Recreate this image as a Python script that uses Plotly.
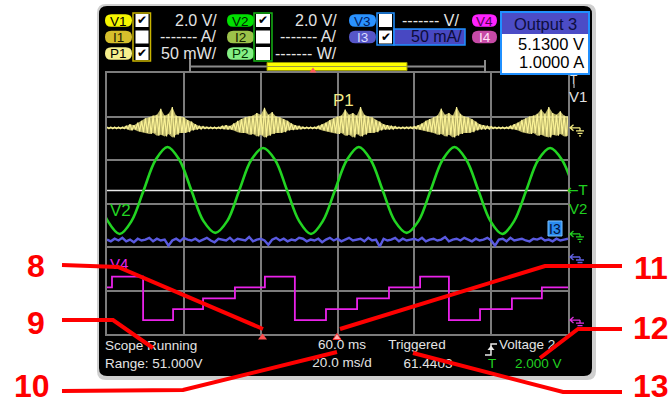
import plotly.graph_objects as go

W, H = 672, 403
FONT = "Liberation Sans, Arial, sans-serif"

# ---------------- data ----------------
SPAN_MS = 120.0            # 20 ms/div x 6 div
# per-division scales and ground offsets (divisions from screen centre)
V2_SCALE, V2_GND = 2.0, -0.70      # V/div
P1_SCALE, P1_GND = 50.0, 1.74      # mW/div
I3_SCALE, I3_GND = 50.0, -1.23     # mA/div
V4_SCALE, V4_GND = 2.0, -2.68      # V/div
TRIG_LEVEL_V = 2.0

# V2 voltage, sampled every 1/8 of its 24.9 ms period
V2_T0, V2_DT = -2.925, 3.1125
V2_VOLTS = [2.0, 0.6, 0.0, 0.6, 2.0, 3.4, 4.0, 3.4,
            2.0, 0.6, 0.05, 0.6, 2.0, 3.4, 3.95, 3.4,
            2.0, 0.6, 0.0, 0.6, 2.0, 3.4, 4.0, 3.4,
            2.0, 0.6, 0.05, 0.6, 2.0, 3.4, 4.0, 3.4,
            2.0, 0.6, 0.0, 0.6, 2.0, 3.4, 3.95, 3.4,
            2.0]

# P1 power envelope (mW), one value per ms from 0 to 120 ms
P1_HI_MW = [1, 1, 1, 1, 1,
            2, 4, 3, 6, 8, 11, 12, 14, 15, 22, 14, 16, 24, 14, 13, 12, 9, 7, 4, 2, 1.5, 1, 1,
            1, 1, 2, 3, 2, 5, 8, 10, 12, 13, 14, 17, 15, 23, 15, 18, 13, 12, 10, 8, 5, 3, 2, 1, 1,
            1, 1, 2, 4, 6, 9, 11, 13, 14, 21, 15, 17, 14, 24, 15, 13, 12, 9, 7, 4, 3, 2, 1.5, 1,
            1, 1, 1, 1.5,
            3, 5, 8, 10, 12, 14, 22, 15, 17, 14, 24, 16, 13, 12, 10, 7, 4, 3, 2, 1.5, 1,
            1, 1, 1,
            2, 4, 6, 9, 11, 13, 14, 16, 21, 16, 24, 17, 15, 19, 14, 13]
P1_LO_MW = [-1, -1, -1, -1, -1,
            -1.5, -3, -2, -4, -5, -6, -7, -6, -9, -8, -10, -7, -11, -8, -6, -6, -5, -3, -2, -1.5, -1, -1, -1,
            -1, -1, -1.5, -2, -2, -3, -5, -6, -6, -8, -7, -10, -8, -11, -9, -7, -6, -6, -5, -3, -2.5, -2, -1.5, -1, -1,
            -1, -1, -1.5, -3, -4, -5, -6, -7, -6, -9, -8, -11, -7, -10, -8, -6, -6, -5, -3, -2, -2, -1.5, -1, -1,
            -1, -1, -1, -1,
            -2, -3, -4, -5, -6, -8, -7, -10, -8, -11, -9, -7, -6, -6, -5, -3, -2, -2, -1.5, -1, -1,
            -1, -1, -1,
            -1.5, -2, -3, -5, -6, -7, -6, -9, -8, -10, -11, -8, -9, -7, -10, -9]

# I3 current (mA), one value per ms
I3_MA = [20, 18, 21, 19, 22, 18, 20, 17, 21, 19, 20, 22, 18, 21, 19, 20, 13, 19, 21, 18,
         22, 20, 19, 21, 18, 20, 22, 19, 17, 21, 20, 19, 22, 18, 21, 20, 19, 23, 18, 20,
         21, 19, 14, 20, 22, 19, 21, 18, 20, 19, 22, 21, 18, 20, 19, 21, 17, 20, 22, 19,
         21, 18, 20, 22, 19, 20, 21, 18, 22, 19, 20, 12, 21, 19, 20, 22, 18, 21, 19, 20,
         21, 19, 22, 18, 20, 21, 19, 20, 23, 18, 20, 21, 19, 22, 20, 18, 21, 19, 20, 22,
         19, 13, 20, 21, 18, 22, 19, 20, 21, 19, 18, 21, 20, 22, 19, 20, 18, 21, 19, 20, 21]

# V4 staircase: step times (ms) and levels (V)
V4_T_MS = [0, 1.3, 9.4, 17.2, 25.0, 33.3, 41.1, 48.9, 57.0, 65.1, 73.4, 81.5, 89.0,
           97.1, 105.4, 113.2, 120]
V4_VOLTS = [1.5, 2.0, 0.0, 0.5, 1.0, 1.5, 2.0, 0.0, 0.5, 1.0, 1.5, 2.0, 0.0,
            0.5, 1.0, 1.5, 1.5]

# ---------------- geometry helpers ----------------
GX0, GX1, GY0, GY1 = 107, 568, 73, 334
GYC = (GY0 + GY1) / 2
DIVPX = (GY1 - GY0) / 6


def ypx(d):
    return GYC - d * DIVPX


def P(x, y):
    return f"{x / W:.5f},{1 - y / H:.5f}"


def mkpath(cmds):
    out = []
    for c in cmds:
        if c[0] == 'Z':
            out.append('Z')
        else:
            pts = c[1:]
            out.append(c[0] + ' ' + ' '.join(P(pts[i], pts[i + 1]) for i in range(0, len(pts), 2)))
    return ' '.join(out)


def rrect_path(x0, y0, x1, y1, r):
    return mkpath([('M', x0 + r, y0), ('L', x1 - r, y0), ('Q', x1, y0, x1, y0 + r),
                   ('L', x1, y1 - r), ('Q', x1, y1, x1 - r, y1), ('L', x0 + r, y1),
                   ('Q', x0, y1, x0, y1 - r), ('L', x0, y0 + r), ('Q', x0, y0, x0 + r, y0), ('Z',)])


shapes = []
ann = []


def shp_path(p, fill=None, lc=None, lw=0, layer='above'):
    d = dict(type='path', xref='paper', yref='paper', path=p, layer=layer,
             line=dict(color=lc if lc else 'rgba(0,0,0,0)', width=lw))
    if fill:
        d['fillcolor'] = fill
    shapes.append(d)


def shp_rect(x0, y0, x1, y1, fill=None, lc=None, lw=0, layer='above'):
    shapes.append(dict(type='rect', xref='paper', yref='paper', x0=x0 / W, x1=x1 / W,
                       y0=1 - y1 / H, y1=1 - y0 / H, layer=layer,
                       fillcolor=fill if fill else 'rgba(0,0,0,0)',
                       line=dict(color=lc if lc else 'rgba(0,0,0,0)', width=lw)))


def shp_line(x0, y0, x1, y1, color, w):
    shapes.append(dict(type='line', xref='paper', yref='paper', x0=x0 / W, x1=x1 / W,
                       y0=1 - y0 / H, y1=1 - y1 / H, layer='above',
                       line=dict(color=color, width=w)))


def txt(x, y, s, size, color, anchor='left', bold=False, family=FONT):
    ann.append(dict(xref='paper', yref='paper', x=x / W, y=1 - y / H, text=f"<b>{s}</b>" if bold else s,
                    showarrow=False, xanchor=anchor, yanchor='middle', borderpad=0,
                    font=dict(family=family, size=size, color=color)))


# ---------------- screen ----------------
shp_path(rrect_path(97, 4, 596, 380, 9), fill='#cfcfcf', layer='below')
shp_path(rrect_path(99, 6, 592, 376, 8), fill='#000000', layer='below')

TXT = '#e4e4e4'
# header badges
R1, R2, R3 = 20.5, 37, 53.5
badges = [
    (105, 132, R1, 'V1', '#f6f600', '#000000'), (105, 132, R2, 'I1', '#d6bf2c', '#1a1a00'),
    (105, 132, R3, 'P1', '#f6ef8c', '#000000'),
    (227, 254, R1, 'V2', '#00e000', '#002000'), (227, 254, R2, 'I2', '#9cc24a', '#102000'),
    (227, 254, R3, 'P2', '#84f084', '#003000'),
    (349, 376, R1, 'V3', '#2a92ff', '#001a60'), (349, 376, R2, 'I3', '#5656c8', '#dcdcff'),
    (472, 497, R1, 'V4', '#ff22ff', '#500050'), (472, 497, R2, 'I4', '#c64aa6', '#ffe0f6'),
]
for x0, x1, yc, lab, fc, tc in badges:
    shp_path(rrect_path(x0, yc - 6.3, x1, yc + 6.3, 6.3), fill=fc)
    txt((x0 + x1) / 2, yc + 0.5, lab, 13.5, tc, anchor='center')

# checkbox groups
shp_rect(133, 13, 150.5, 61, fill='#000000', lc='#c9b400', lw=1.5)
shp_rect(254, 13, 272, 61, fill='#000000', lc='#14b414', lw=1.5)
shp_rect(377, 13, 394, 45, fill='#000000', lc='#2090ff', lw=1.5)
# I3 highlight box
shp_rect(394, 29, 465, 45, fill='#4848c2', lc='#2090ff', lw=1.5)
boxes = [(135.5, 148.5, R1, True), (135.5, 148.5, R2, False), (135.5, 148.5, R3, True),
         (256, 270, R1, True), (256, 270, R2, False), (256, 270, R3, False),
         (379, 392, R1, False), (379, 392, R2, True)]
for x0, x1, yc, chk in boxes:
    shp_rect(x0, yc - 6.5, x1, yc + 6.5, fill='#ffffff')
    if chk:
        txt((x0 + x1) / 2, yc, '✔', 12, '#000000', anchor='center', family='DejaVu Sans')

# header scale texts
HS = 16
txt(218, R1, '2.0 V/', HS, TXT, anchor='right')
txt(218, R2, '------- A/', HS, TXT, anchor='right')
txt(218, R3, '50 mW/', HS, TXT, anchor='right')
txt(338, R1, '2.0 V/', HS, TXT, anchor='right')
txt(338, R2, '------- A/', HS, TXT, anchor='right')
txt(338, R3, '------- W/', HS, TXT, anchor='right')
txt(460, R1, '------- V/', HS, TXT, anchor='right')
txt(463, R2, '50 mA/', HS, '#0c0c3a', anchor='right')

# output box
shp_rect(501, 12, 589, 34, fill='#4c4cc6')
shp_rect(501, 34, 589, 74, fill='#ffffff')
shp_rect(501, 12, 589, 74, lc='#2090ff', lw=2)
txt(545, 23.5, 'Output 3', 16.5, '#0e0e40', anchor='center')
txt(585, 44, '5.1300 V', 16.5, '#000000', anchor='right')
txt(585, 62, '1.0000 A', 16.5, '#000000', anchor='right')

# timeline bar
shp_line(190, 66.5, 485, 66.5, '#8a8a8a', 2)
shp_line(190, 58, 190, 72, '#8a8a8a', 2)
shp_line(485, 60, 485, 73, '#8a8a8a', 2)
shp_rect(267, 62.5, 407, 70.5, fill='#ffff00', lc='#9a9a00', lw=1)
shp_line(267, 66.5, 407, 66.5, '#9a9a40', 1)
shp_path(mkpath([('M', 309.5, 72.5), ('L', 313, 67.5), ('L', 316.5, 72.5), ('Z',)]), fill='#ff5a5a')

# right-hand markers
def ground(x, y, color):
    shp_path(mkpath([('M', x, y), ('L', x + 10, y), ('M', x + 3.5, y - 3), ('L', x, y), ('L', x + 3.5, y + 3),
                     ('M', x + 10, y), ('L', x + 10, y + 3), ('M', x + 6, y + 3), ('L', x + 14, y + 3),
                     ('M', x + 7.5, y + 5.5), ('L', x + 12.5, y + 5.5), ('M', x + 9, y + 8), ('L', x + 11, y + 8)]),
             lc=color, lw=1.3)


ground(570, ypx(P1_GND), '#f2ea80')
ground(570, ypx(V2_GND), '#20d020')
ground(570, ypx(I3_GND), '#6060e0')
ground(570, ypx(V4_GND), '#e030e0')
txt(574, 80, 'T', 12, '#e0e0e0', anchor='center')
shp_line(574, 84, 574, 88, '#e0e0e0', 1)
txt(578, 97, 'V1', 15, '#e0e0e0', anchor='center')
trig_y = ypx(V2_GND + TRIG_LEVEL_V / V2_SCALE)
txt(577, trig_y, '←T', 14, '#20d020', anchor='center', family='DejaVu Sans')
txt(578, 208, 'V2', 15, '#20d020', anchor='center')
shp_rect(548, 221, 562, 236, fill='#2a8cf0', lc='#7ac0ff', lw=1)
txt(555, 228.5, 'I3', 14, '#001040', anchor='center')

# trigger position markers
shp_path(mkpath([('M', 258, 339.5), ('L', 262.5, 333.5), ('L', 267, 339.5), ('Z',)]), fill='#ff5050')
shp_path(mkpath([('M', 333, 339.5), ('L', 337, 333.5), ('L', 341, 339.5), ('Z',)]), fill='#ffb0b0', lc='#ff3030', lw=1)

# trigger edge icon
shp_path(mkpath([('M', 485, 355), ('L', 491, 355), ('L', 491, 344), ('L', 497, 344)]), lc='#e8e8e8', lw=1.5)
shp_path(mkpath([('M', 487.5, 350), ('L', 491, 345.5), ('L', 494.5, 350), ('Z',)]), fill='#e8e8e8')

# red callouts
RED = '#ff0000'
for pts in [[(62, 265), (118, 267), (263, 329)],
            [(62, 320), (113, 320), (153, 348)],
            [(62, 391), (183, 390), (337, 352)],
            [(622, 266), (545, 266), (340, 329)],
            [(622, 329), (578, 329), (540, 358)],
            [(622, 392), (563, 392), (413, 353)]]:
    shp_path(mkpath([('M',) + pts[0]] + [('L',) + p for p in pts[1:]]), lc=RED, lw=4)
for lab, x, y in [('8', 36, 265), ('9', 36, 322), ('10', 32, 385),
                  ('11', 651, 267), ('12', 651, 327), ('13', 651, 385)]:
    txt(x, y + 1, lab, 32, RED, anchor='center', bold=True)

# ---------------- traces ----------------
fig = go.Figure()


def to_div(vals, scale, gnd):
    return [gnd + v / scale for v in vals]


sc = dict(xaxis='x2', yaxis='y2', hoverinfo='skip', showlegend=False)

# trigger level line
fig.add_trace(go.Scatter(x=[0, SPAN_MS], y=to_div([TRIG_LEVEL_V, TRIG_LEVEL_V], V2_SCALE, V2_GND),
                         mode='lines', line=dict(color='#e8e8e8', width=1.6), **sc))

# P1
p1_dt = SPAN_MS / (len(P1_HI_MW) - 1)
p1_t = [i * p1_dt for i in range(len(P1_HI_MW))]
fig.add_trace(go.Scatter(x=p1_t, y=to_div(P1_LO_MW, P1_SCALE, P1_GND), mode='lines',
                         line=dict(width=0, color='rgba(0,0,0,0)'), **sc))
fig.add_trace(go.Scatter(x=p1_t, y=to_div(P1_HI_MW, P1_SCALE, P1_GND), mode='lines', fill='tonexty',
                         fillcolor='rgba(246,238,140,0.72)', line=dict(width=0, color='rgba(0,0,0,0)'), **sc))
zx, zy = [], []
for t, hi, lo in zip(p1_t, P1_HI_MW, P1_LO_MW):
    zx += [t, t + p1_dt / 2]
    zy += [hi, lo]
fig.add_trace(go.Scatter(x=zx, y=to_div(zy, P1_SCALE, P1_GND), mode='lines',
                         line=dict(color='#faf296', width=1.2), **sc))

# I3
i3_dt = SPAN_MS / (len(I3_MA) - 1)
fig.add_trace(go.Scatter(x=[i * i3_dt for i in range(len(I3_MA))], y=to_div(I3_MA, I3_SCALE, I3_GND),
                         mode='lines', line=dict(color='#5a5ae0', width=2.4), **sc))

# V2
fig.add_trace(go.Scatter(x=[V2_T0 + i * V2_DT for i in range(len(V2_VOLTS))],
                         y=to_div(V2_VOLTS, V2_SCALE, V2_GND), mode='lines',
                         line=dict(color='#22d422', width=2.6, shape='spline', smoothing=1.0), **sc))

# V4
fig.add_trace(go.Scatter(x=V4_T_MS, y=to_div(V4_VOLTS, V4_SCALE, V4_GND), mode='lines',
                         line=dict(color='#ea22ea', width=1.8, shape='hv'), **sc))

# channel labels inside the grid
txt(343, 100, 'P1', 17, '#f4ec88', anchor='center')
txt(120, 210, 'V2', 17, '#22d422', anchor='center')

# texts that sit under the red callout lines (drawn as text traces)
def ttrace(x, y, s, size, color, pos):
    fig.add_trace(go.Scatter(x=[x], y=[y], mode='text', text=[s], textposition=pos,
                             textfont=dict(family=FONT, size=size, color=color),
                             xaxis='x', yaxis='y', hoverinfo='skip', showlegend=False))


ttrace(105, 347, 'Scope Running', 13.5, TXT, 'middle right')
ttrace(105, 365, 'Range: 51.000V', 13.5, TXT, 'middle right')
ttrace(110, 265, 'V4', 15, '#ea22ea', 'middle right')
ttrace(342, 346, '60.0 ms', 13.5, TXT, 'middle center')
ttrace(342, 364, '20.0 ms/d', 13.5, TXT, 'middle center')
ttrace(417, 346, 'Triggered', 13.5, TXT, 'middle center')
ttrace(428, 365, '61.4403', 13.5, TXT, 'middle center')
ttrace(499, 346, 'Voltage 2', 13.5, TXT, 'middle right')
ttrace(492, 365, 'T', 13.5, '#20d020', 'middle center')
ttrace(515, 365, '2.000 V', 13.5, '#20d020', 'middle right')

GRID = '#7c7c7c'
fig.update_layout(
    width=W, height=H, margin=dict(l=0, r=0, t=0, b=0),
    paper_bgcolor='#ffffff', plot_bgcolor='rgba(0,0,0,0)',
    xaxis=dict(domain=[0, 1], range=[0, W], visible=False, fixedrange=True),
    yaxis=dict(domain=[0, 1], range=[H, 0], visible=False, fixedrange=True),
    xaxis2=dict(domain=[GX0 / W, GX1 / W], range=[0, SPAN_MS], anchor='y2', dtick=20, tick0=0,
                showgrid=True, gridcolor=GRID, gridwidth=1.6, showline=True, mirror=True,
                linecolor=GRID, linewidth=2, zeroline=False, showticklabels=False, ticks='', fixedrange=True),
    yaxis2=dict(domain=[1 - GY1 / H, 1 - GY0 / H], range=[-3, 3], anchor='x2', dtick=1, tick0=0,
                showgrid=True, gridcolor=GRID, gridwidth=1.6, showline=True, mirror=True,
                linecolor=GRID, linewidth=2, zeroline=False, showticklabels=False, ticks='', fixedrange=True),
    shapes=shapes, annotations=ann, showlegend=False,
)
fig.write_html("out.html", config={'displayModeBar': False},
               post_script="document.body.style.margin='0px';document.body.style.overflow='hidden';")
